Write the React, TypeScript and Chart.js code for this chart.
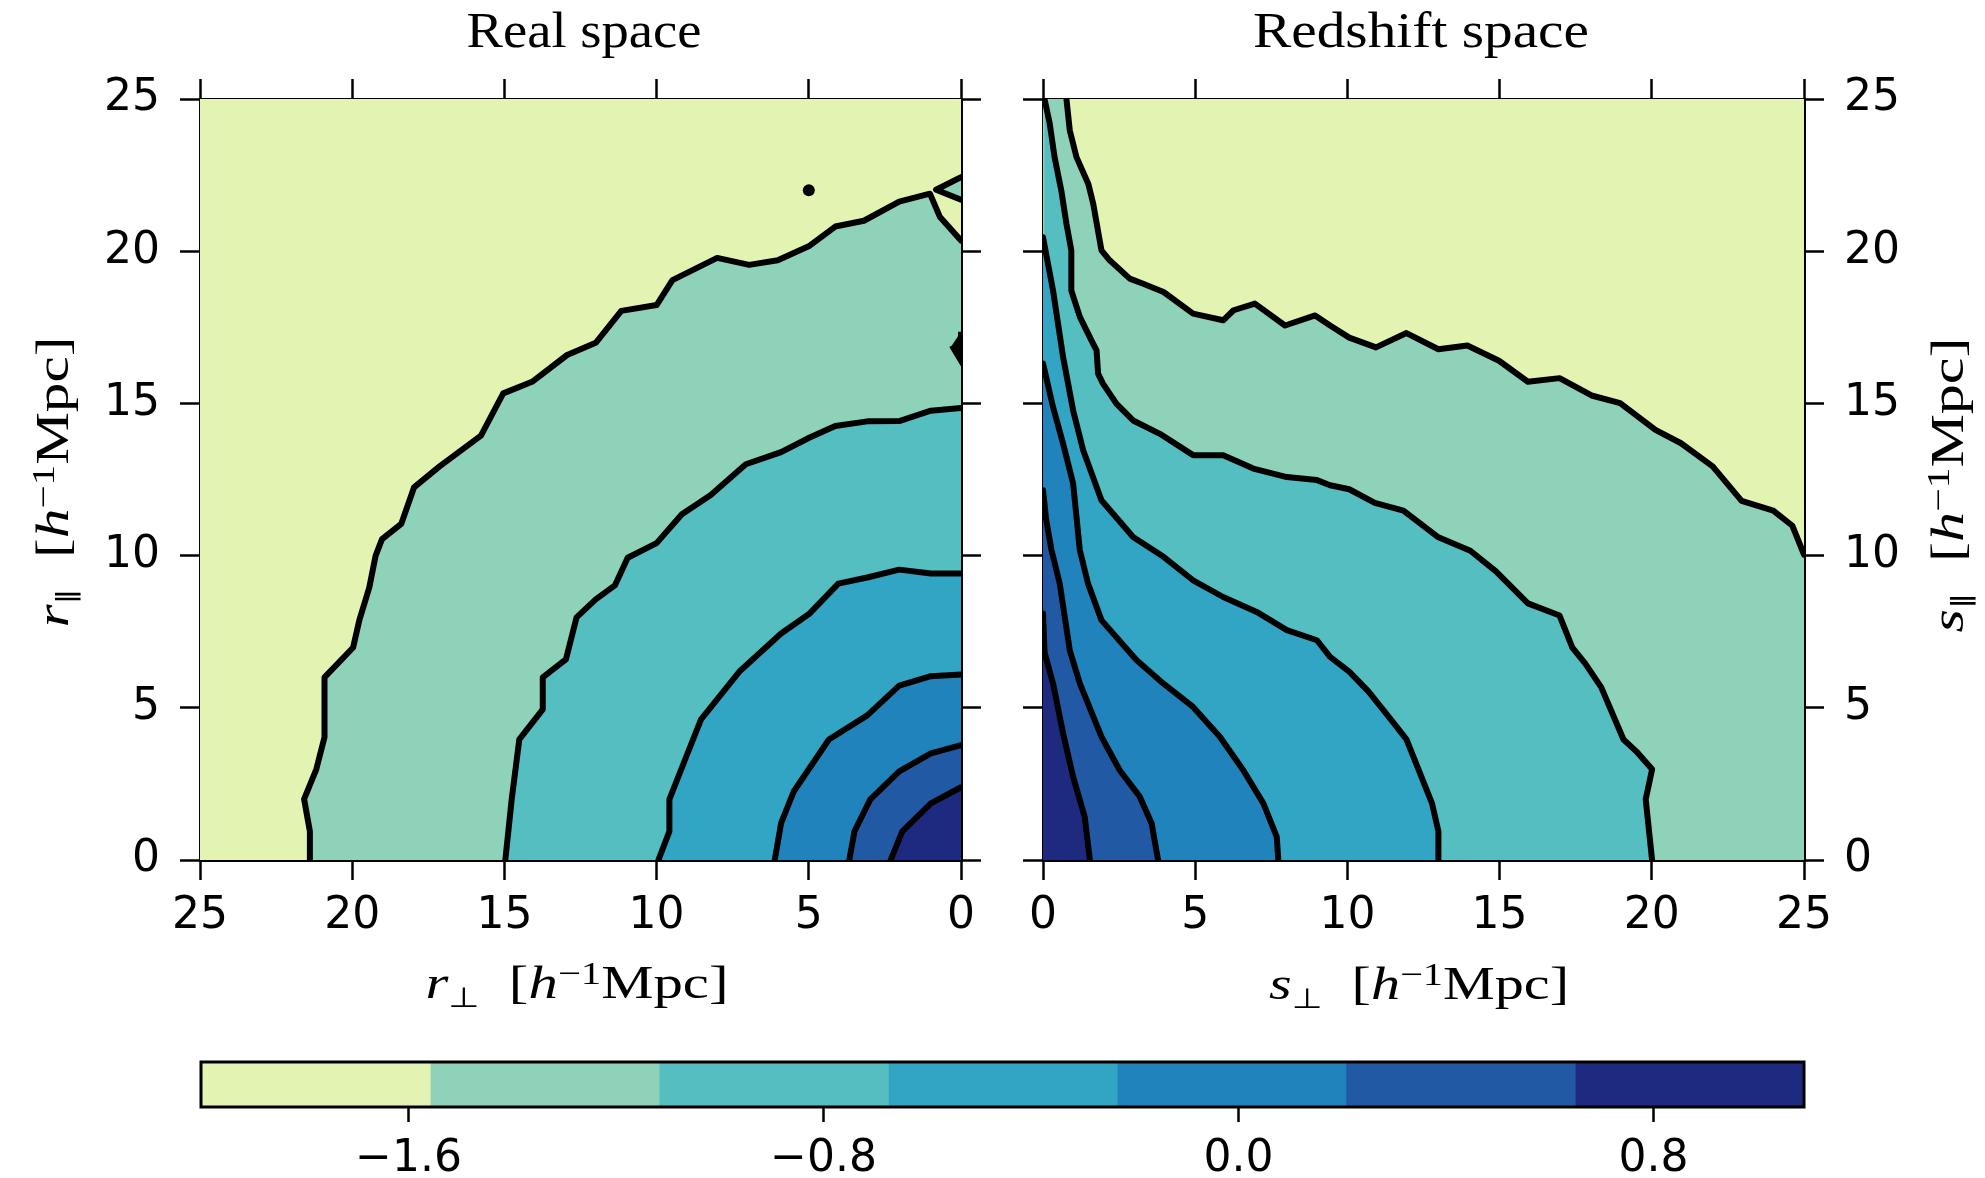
import React, { useEffect, useRef } from 'react';
import { Chart, registerables } from 'chart.js';

Chart.register(...registerables);

// ---------------- data ----------------
const AXIS_MIN = 0;
const AXIS_MAX = 25;
const AXIS_STEP = 5;

const LEVEL_COLORS = ['#e3f4b2', '#8ed2b9', '#55bec1', '#33a5c4', '#2083bb', '#2259a5', '#1d2a7f'];
const CB_LEVELS = [-2.0, -1.558, -1.117, -0.675, -0.234, 0.207, 0.649, 1.09];
const CB_TICKS = [-1.6, -0.8, 0.0, 0.8];

// Real space contours (r_perp, r_par), outermost level first
const REAL_A_X = [21.39, 21.39, 21.58, 21.18, 20.91, 20.91, 19.97, 19.76, 19.44, 19.23, 19.02, 18.39, 17.97, 17.13, 15.77, 15.04, 14.09, 12.94, 12.0, 11.16, 10.0, 9.48, 8.01, 6.96, 6.02, 4.97, 4.13, 3.19, 2.03, 1.02, 0.69, 0.0];
const REAL_A_Y = [0, 0.94, 2.0, 2.98, 4.03, 6.0, 6.98, 7.9, 8.95, 10.0, 10.54, 11.04, 12.24, 12.93, 13.94, 15.33, 15.71, 16.59, 16.99, 18.04, 18.23, 19.05, 19.78, 19.55, 19.7, 20.18, 20.81, 21.0, 21.63, 21.89, 21.12, 20.35];
const REAL_B_X = [14.97, 14.76, 14.51, 13.74, 13.74, 12.98, 12.63, 12.0, 11.37, 10.95, 10.0, 9.17, 8.22, 7.07, 5.91, 4.97, 4.13, 3.08, 2.03, 0.99, 0];
const REAL_B_Y = [0, 1.99, 3.96, 4.95, 6.0, 6.59, 7.97, 8.56, 9.02, 9.93, 10.41, 11.36, 11.99, 13.0, 13.4, 13.88, 14.26, 14.41, 14.42, 14.76, 14.85];
const REAL_C_X = [9.94, 9.58, 9.58, 9.06, 8.54, 7.28, 5.91, 4.97, 4.03, 3.08, 2.03, 0.99, 0];
const REAL_C_Y = [0, 0.94, 1.99, 3.31, 4.62, 6.19, 7.44, 8.1, 9.08, 9.28, 9.54, 9.41, 9.41];
const REAL_D_X = [6.12, 5.91, 5.49, 4.34, 3.08, 2.03, 0.99, 0];
const REAL_D_Y = [0, 1.21, 2.26, 3.96, 4.75, 5.73, 6.04, 6.09];
const REAL_E_X = [3.67, 3.5, 2.98, 2.03, 0.99, 0];
const REAL_E_Y = [0, 0.94, 1.99, 2.91, 3.5, 3.77];
const REAL_F_X = [2.31, 1.93, 0.99, 0];
const REAL_F_Y = [0, 0.94, 1.86, 2.39];
const REAL_TRI_X = [0, 0.82, 0];
const REAL_TRI_Y = [22.43, 22.02, 21.69];
const REAL_BLOB_X = [0.3, 0, 0];
const REAL_BLOB_Y = [16.9, 16.4, 17.35];
const REAL_DOT_X = [5.0];
const REAL_DOT_Y = [22.0];

// Redshift space contours (s_perp, s_par), outermost level first
const RED_A_X = [0.77, 0.88, 1.1, 1.49, 1.65, 1.92, 2.19, 2.85, 3.29, 3.96, 4.93, 5.92, 6.26, 6.96, 7.95, 8.94, 9.43, 10.06, 10.94, 11.94, 12.99, 13.94, 14.98, 15.93, 16.97, 18.02, 18.96, 20.12, 20.96, 22.0, 22.95, 23.99, 24.62, 25];
const RED_A_Y = [25, 23.97, 23.09, 22.21, 21.56, 20.03, 19.7, 19.1, 18.93, 18.66, 17.95, 17.73, 18.06, 18.28, 17.56, 17.89, 17.56, 17.16, 16.84, 17.31, 16.78, 16.9, 16.4, 15.71, 15.83, 15.26, 15.01, 14.13, 13.69, 12.93, 11.8, 11.48, 10.98, 10.03];
const RED_B_X = [0.05, 0.22, 0.38, 0.6, 0.77, 0.93, 0.93, 1.21, 1.59, 1.76, 1.81, 1.97, 2.41, 2.96, 3.84, 4.93, 5.92, 6.91, 8.01, 9.0, 9.43, 10.06, 10.9, 11.84, 12.99, 14.04, 14.88, 15.93, 16.97, 17.39, 17.81, 18.34, 19.07, 19.49, 20.01, 19.8, 19.91, 20.01];
const RED_B_Y = [25, 24.2, 23.09, 22.0, 20.9, 20.03, 18.71, 17.84, 17.07, 16.74, 15.98, 15.65, 14.99, 14.44, 14.0, 13.3, 13.3, 12.86, 12.58, 12.48, 12.31, 12.18, 11.73, 11.48, 10.6, 10.16, 9.48, 8.43, 8.03, 6.98, 6.46, 5.67, 3.96, 3.57, 2.98, 1.99, 0.94, 0];
const RED_C_X = [0, 0.33, 0.66, 0.99, 1.32, 1.92, 2.96, 3.96, 4.93, 5.92, 7.02, 8.01, 9.0, 9.43, 10.06, 10.69, 11.53, 11.94, 12.36, 12.78, 12.99, 12.99];
const RED_C_Y = [20.46, 18.71, 16.52, 14.77, 13.46, 11.82, 10.61, 9.96, 9.19, 8.64, 8.15, 7.55, 7.22, 6.67, 6.19, 5.54, 4.49, 3.96, 2.91, 1.86, 0.94, 0];
const RED_D_X = [0, 0.33, 0.66, 0.99, 1.21, 1.48, 1.92, 3.07, 3.95, 4.93, 5.81, 6.58, 7.24, 7.68, 7.73];
const RED_D_Y = [16.31, 14.88, 13.68, 12.37, 10.18, 9.08, 7.88, 6.57, 5.8, 5.03, 4.05, 2.95, 1.86, 0.76, 0];
const RED_E_X = [0, 0.1, 0.28, 0.55, 0.88, 1.21, 1.92, 2.52, 3.18, 3.57, 3.78];
const RED_E_Y = [12.15, 11.2, 10.18, 9.08, 6.89, 5.8, 4.05, 2.95, 2.08, 1.2, 0];
const RED_F_X = [0, 0.05, 0.33, 0.66, 0.99, 1.37, 1.54];
const RED_F_Y = [8.1, 6.82, 5.8, 4.16, 2.73, 1.42, 0];

// ---------------- helpers ----------------
type P = { x: number; y: number };
const toPts = (xs: number[], ys: number[]): P[] => xs.map((x, i) => ({ x, y: ys[i] }));

const GRID = 'rgba(170,170,170,0.32)';
const TICK_FONT = { family: '"DejaVu Sans"', size: 44 };
const SERIF = '"Liberation Serif", "DejaVu Serif", serif';
const LINE_W = 6;

const fillDs = (data: P[], color: string) => ({
  data, showLine: true, fill: 'shape', backgroundColor: color, borderColor: color,
  borderWidth: 0, pointRadius: 0, tension: 0,
});
const lineDs = (data: P[]) => ({
  data, showLine: true, fill: false, borderColor: '#000', borderWidth: LINE_W,
  pointRadius: 0, tension: 0, borderJoinStyle: 'round', borderCapStyle: 'round',
});
const withOrder = (ds: any[]) => ds.map((d, i) => ({ ...d, order: ds.length - i }));

type Run = { t: string; size: number; italic?: boolean; dy?: number; family?: string };
type TextItem = { runs: Run[]; x: number; y: number; w: number; rot?: boolean };

function drawRuns(ctx: CanvasRenderingContext2D, item: TextItem) {
  const fontOf = (r: Run) => `${r.italic ? 'italic ' : ''}${r.size}px ${r.family || SERIF}`;
  ctx.save();
  let total = 0;
  const widths = item.runs.map((r) => {
    ctx.font = fontOf(r);
    const w = ctx.measureText(r.t).width;
    total += w;
    return w;
  });
  ctx.translate(item.x, item.y);
  if (item.rot) ctx.rotate(-Math.PI / 2);
  ctx.scale(item.w / total, 1);
  ctx.fillStyle = '#000';
  ctx.textAlign = 'left';
  ctx.textBaseline = 'alphabetic';
  let x = -total / 2;
  item.runs.forEach((r, i) => {
    ctx.font = fontOf(r);
    ctx.fillText(r.t, x, r.dy || 0);
    x += widths[i];
  });
  ctx.restore();
}

const F = 46;
const labelRuns = (v: string, sub: string, subSize: number, subDy: number): Run[] => [
  { t: v, size: F, italic: true },
  { t: sub, size: subSize, dy: subDy, family: '"DejaVu Sans"' },
  { t: '  ', size: F },
  { t: '[', size: F },
  { t: 'h', size: F, italic: true },
  { t: '\u22121', size: 32, dy: -14 },
  { t: 'Mpc]', size: F },
];

const bgPlugin = {
  id: 'areaBg',
  beforeDatasetsDraw(chart: any) {
    const { ctx, chartArea: a } = chart;
    ctx.save();
    ctx.fillStyle = LEVEL_COLORS[0];
    ctx.fillRect(a.left, a.top, a.right - a.left, a.bottom - a.top);
    ctx.restore();
  },
};
const textPlugin = (items: TextItem[]) => ({
  id: 'texts',
  afterDraw(chart: any) {
    items.forEach((it) => drawRuns(chart.ctx, it));
  },
});

function panelConfig(isReal: boolean, datasets: any[], texts: TextItem[]) {
  const sz = isReal
    ? { left: 200, right: 39, top: 99, bottom: 170 }
    : { left: 43, right: 181, top: 99, bottom: 170 };
  const axis = (position: string, labels: boolean, size: number, isX: boolean, grid: boolean) => ({
    type: 'linear', position, min: AXIS_MIN, max: AXIS_MAX, reverse: isX ? isReal : false, z: 1,
    ticks: {
      display: labels, stepSize: AXIS_STEP, font: TICK_FONT, color: '#000',
      padding: isX ? 10 : 20, maxRotation: 0, autoSkip: false,
    },
    grid: {
      display: true, drawOnChartArea: grid, color: GRID, lineWidth: 3, drawTicks: true,
      tickLength: 20, tickColor: '#000', tickWidth: 2.5,
    },
    border: { display: true, color: '#000', width: 3 },
    afterFit: (s: any) => { if (isX) s.height = size; else s.width = size; },
  });
  return {
    type: 'scatter',
    data: { datasets: withOrder(datasets) },
    options: {
      responsive: false, animation: false, devicePixelRatio: 1, events: [],
      layout: { padding: 0 },
      plugins: { legend: { display: false }, tooltip: { enabled: false }, title: { display: false } },
      scales: {
        x: axis('bottom', true, sz.bottom, true, true),
        x2: axis('top', false, sz.top, true, false),
        y: axis(isReal ? 'left' : 'right', true, isReal ? sz.left : sz.right, false, true),
        y2: axis(isReal ? 'right' : 'left', false, isReal ? sz.right : sz.left, false, false),
      },
    },
    plugins: [bgPlugin, textPlugin(texts)],
  };
}

function realConfig() {
  const left = (xs: number[], ys: number[]) => [{ x: AXIS_MAX, y: 0 }, ...toPts(xs, ys), { x: 0, y: 0 }];
  const curves = [
    [REAL_A_X, REAL_A_Y], [REAL_B_X, REAL_B_Y], [REAL_C_X, REAL_C_Y],
    [REAL_D_X, REAL_D_Y], [REAL_E_X, REAL_E_Y], [REAL_F_X, REAL_F_Y],
  ];
  const tri = toPts(REAL_TRI_X, REAL_TRI_Y);
  const ds: any[] = [];
  curves.forEach(([xs, ys], i) => ds.push(fillDs(left(xs, ys), LEVEL_COLORS[i + 1])));
  ds.push(fillDs([tri[1], tri[2], tri[0]], LEVEL_COLORS[1]));
  curves.forEach(([xs, ys]) => ds.push(lineDs(toPts(xs, ys))));
  ds.push(lineDs(tri));
  ds.push({ ...fillDs(toPts(REAL_BLOB_X, REAL_BLOB_Y), '#000'), borderWidth: LINE_W, borderColor: '#000' });
  ds.push({ data: toPts(REAL_DOT_X, REAL_DOT_Y), showLine: false, pointRadius: 6, pointBackgroundColor: '#000', pointBorderWidth: 0 });
  const texts: TextItem[] = [
    { runs: [{ t: 'Real space', size: 50 }], x: 584, y: 47, w: 235 },
    { runs: labelRuns('r', '\u22a5', 28, 9), x: 577, y: 998, w: 303 },
    { runs: labelRuns('r', '\u2225', 26, 7), x: 68, y: 482, w: 291, rot: true },
  ];
  return panelConfig(true, ds, texts);
}

function redConfig() {
  const OX = 1000;
  const curves = [
    [RED_B_X, RED_B_Y], [RED_C_X, RED_C_Y], [RED_D_X, RED_D_Y], [RED_E_X, RED_E_Y], [RED_F_X, RED_F_Y],
  ];
  const ds: any[] = [];
  ds.push(fillDs([{ x: 0, y: 0 }, { x: 0, y: AXIS_MAX }, ...toPts(RED_A_X, RED_A_Y), { x: AXIS_MAX, y: 0 }], LEVEL_COLORS[1]));
  curves.forEach(([xs, ys], i) => ds.push(fillDs([{ x: 0, y: 0 }, ...toPts(xs, ys), { x: AXIS_MAX, y: 0 }], LEVEL_COLORS[i + 2])));
  ds.push(lineDs(toPts(RED_A_X, RED_A_Y)));
  curves.forEach(([xs, ys]) => ds.push(lineDs(toPts(xs, ys))));
  const texts: TextItem[] = [
    { runs: [{ t: 'Redshift space', size: 50 }], x: 1421 - OX, y: 47, w: 336 },
    { runs: labelRuns('s', '\u22a5', 28, 9), x: 1419 - OX, y: 999, w: 300 },
    { runs: labelRuns('s', '\u2225', 26, 7), x: 1963 - OX, y: 485, w: 295, rot: true },
  ];
  return panelConfig(false, ds, texts);
}

function cbConfig() {
  const frame = {
    id: 'cbFrame',
    afterDatasetsDraw(chart: any) {
      const { ctx, chartArea: a } = chart;
      ctx.save();
      ctx.strokeStyle = '#000';
      ctx.lineWidth = 3;
      ctx.strokeRect(a.left, a.top, a.right - a.left, a.bottom - a.top);
      ctx.restore();
    },
  };
  return {
    type: 'bar',
    data: {
      labels: ['levels'],
      datasets: LEVEL_COLORS.map((c, i) => ({
        data: [[CB_LEVELS[i], CB_LEVELS[i + 1]]], backgroundColor: c, borderWidth: 0,
        barPercentage: 1, categoryPercentage: 1, grouped: false,
      })),
    },
    options: {
      indexAxis: 'y', responsive: false, animation: false, devicePixelRatio: 1, events: [],
      layout: { padding: { left: 201, right: 181, top: 32, bottom: 0 } },
      plugins: { legend: { display: false }, tooltip: { enabled: false } },
      scales: {
        x: {
          type: 'linear', min: CB_LEVELS[0], max: CB_LEVELS[CB_LEVELS.length - 1],
          afterBuildTicks: (s: any) => { s.ticks = CB_TICKS.map((v) => ({ value: v })); },
          ticks: {
            font: TICK_FONT, color: '#000', padding: 11, maxRotation: 0, autoSkip: false,
            callback: (v: any) => (Number(v) < 0 ? '\u2212' : '') + Math.abs(Number(v)).toFixed(1),
          },
          grid: { drawOnChartArea: false, tickLength: 15, tickColor: '#000', tickWidth: 2.5 },
          border: { display: false },
          afterFit: (s: any) => { s.height = 71; },
        },
        y: { type: 'category', display: false },
      },
    },
    plugins: [frame],
  };
}

export default function App() {
  const leftRef = useRef<HTMLCanvasElement>(null);
  const rightRef = useRef<HTMLCanvasElement>(null);
  const cbRef = useRef<HTMLCanvasElement>(null);

  useEffect(() => {
    const charts = [
      new Chart(leftRef.current as HTMLCanvasElement, realConfig() as any),
      new Chart(rightRef.current as HTMLCanvasElement, redConfig() as any),
      new Chart(cbRef.current as HTMLCanvasElement, cbConfig() as any),
    ];
    return () => charts.forEach((c) => c.destroy());
  }, []);

  return (
    <div style={{ position: 'absolute', left: 0, top: 0, width: 1985, height: 1178, background: '#fff', overflow: 'hidden' }}>
      <canvas ref={leftRef} width={1000} height={1030} style={{ position: 'absolute', left: 0, top: 0, width: 1000, height: 1030 }} />
      <canvas ref={rightRef} width={985} height={1030} style={{ position: 'absolute', left: 1000, top: 0, width: 985, height: 1030 }} />
      <canvas ref={cbRef} width={1985} height={148} style={{ position: 'absolute', left: 0, top: 1030, width: 1985, height: 148 }} />
    </div>
  );
}
